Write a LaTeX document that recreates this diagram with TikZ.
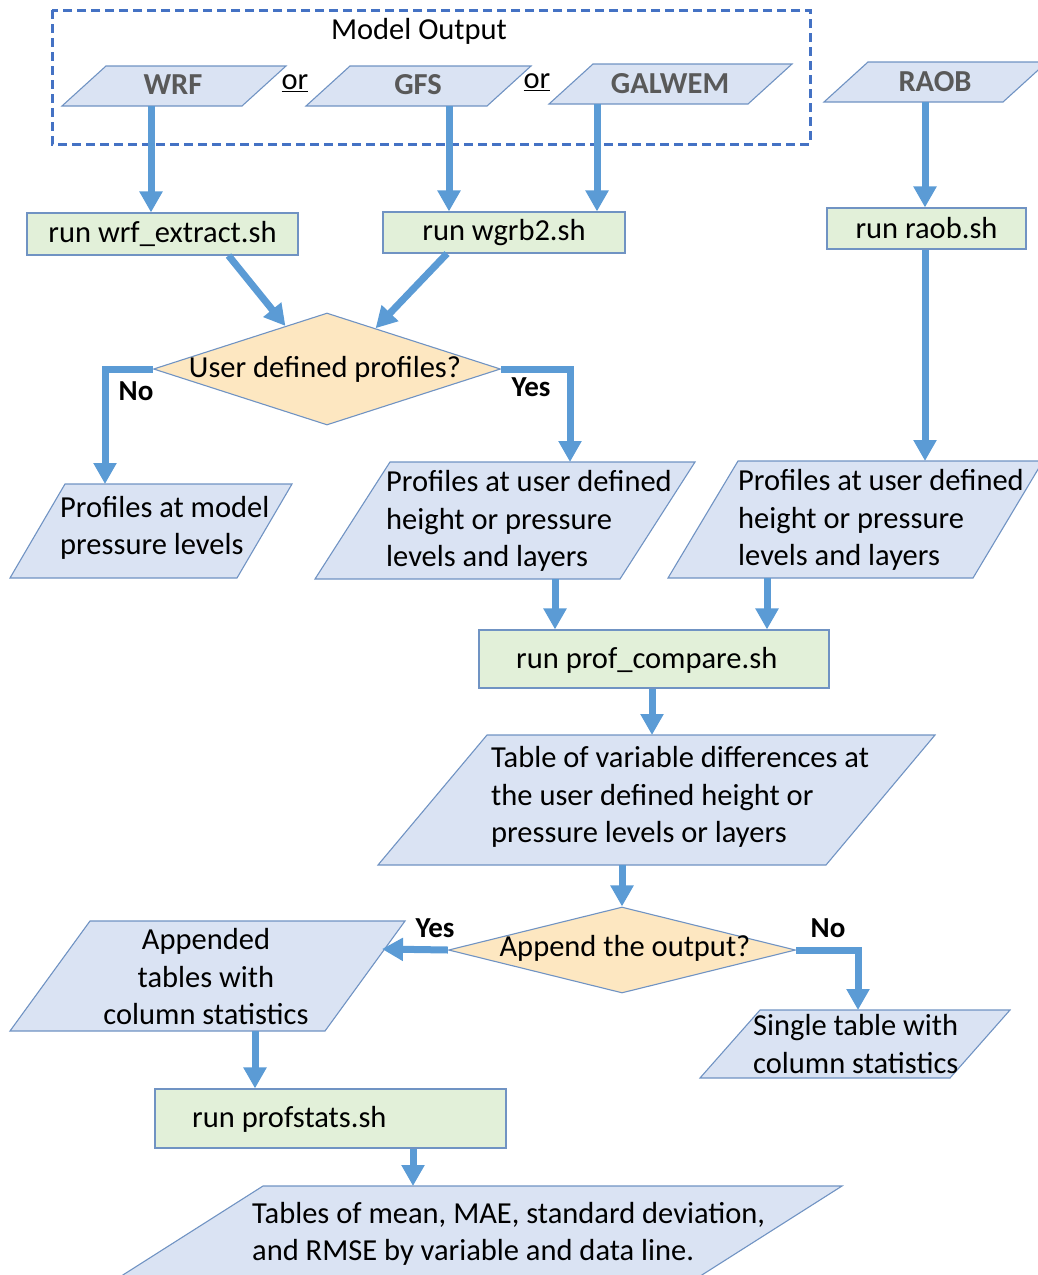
\documentclass[tikz,border=0pt]{standalone}
\usepackage{fontspec}
\setmainfont{Carlito}
\usetikzlibrary{arrows.meta,shapes.geometric}

\definecolor{flowblue}{HTML}{5B9BD5}
\definecolor{dashblue}{HTML}{4472C4}
\definecolor{iofill}{HTML}{DAE3F3}
\definecolor{runfill}{HTML}{E2F0D9}
\definecolor{askfill}{HTML}{FDE7C1}
\definecolor{edgeblue}{HTML}{7093C3}
\definecolor{srcgray}{HTML}{595959}

\newcommand\mainsize{\fontsize{30.5}{37.5}\selectfont}
\newcommand\branchsize{\fontsize{29}{34}\selectfont}

% parallelogram: name, bottom-left x, bottom-right x, bottom y, top y, slant offset
\newcommand\ioshape[6]{%
  \draw[iobox] (#2,#4) -- (#3,#4) -- ({#3+#6},#5) -- ({#2+#6},#5) -- cycle;
  \coordinate (#1) at ({(#2+#3+#6)/2},{(#4+#5)/2});}

\tikzset{
  iobox/.style={draw=edgeblue, fill=iofill, line width=1.1pt},
  runbox/.style={draw=edgeblue, fill=runfill, line width=1.1pt, rectangle, inner sep=0pt, font=\mainsize},
  ask/.style={draw=edgeblue, fill=askfill, line width=1.1pt, diamond, inner sep=0pt},
  flow/.style={draw=flowblue, line width=7pt, -{Triangle[width=22pt,length=21pt]}},
  txt/.style={inner sep=0pt, font=\mainsize, align=left},
  srcname/.style={inner sep=0pt, font=\mainsize\bfseries, text=srcgray},
  branch/.style={inner sep=0pt, font=\branchsize\bfseries},
}

\begin{document}
\begin{tikzpicture}[x=1pt,y=-1pt]
\useasboundingbox (0,0) rectangle (1038,1275);
\clip (0,0) rectangle (1038,1275);

% model output group
\draw[dashblue, line width=3pt, dash pattern=on 9pt off 5pt] (52,10) rectangle (810,144);
\node[txt] (mo) at (419,31) {Model Output};

% data sources
\ioshape{wrf}{62}{242}{106}{66}{44}
\node[srcname] (wrft) at (173,85) {WRF};
\ioshape{gfs}{306}{487}{106}{66}{44}
\node[srcname] (gfst) at (418,85) {GFS};
\ioshape{galwem}{549}{748}{104}{64}{44}
\node[srcname] (galwemt) at (670,84) {GALWEM};
\ioshape{raob}{824}{1003}{102}{62}{44}
\node[srcname] (raobt) at (935,82) {RAOB};
\node[txt] (or1) at (295,83) {\underline{or}};
\node[txt] (or2) at (537,82) {\underline{or}};

% extraction scripts
\node[runbox, minimum width=271pt, minimum height=42pt] (ext) at (162.5,234) {run wrf\_extract.sh};
\node[runbox, minimum width=242pt, minimum height=41pt] (wgrb) at (504,232.5) {run wgrb2.sh};
\node[runbox, minimum width=199pt, minimum height=41pt] (raobsh) at (926.5,228.5) {run raob.sh};

% first decision
\node[ask, minimum width=347pt, minimum height=112pt] (d1) at (327,369) {};
\node[txt] (d1t) at (325,369) {User defined profiles?};

% profile outputs
\ioshape{pmod}{10}{237}{578}{484}{55}
\node[txt, anchor=west] (pmodt) at (60,528) {Profiles at model\\pressure levels};
\ioshape{pusr}{315}{620}{579}{462}{75}
\node[txt, anchor=west] (pusrt) at (386,521) {Profiles at user defined\\height or pressure\\levels and layers};
\ioshape{pobs}{668}{973}{578}{461}{70}
\node[txt, anchor=west] (pobst) at (738,520) {Profiles at user defined\\height or pressure\\levels and layers};

% comparison
\node[runbox, minimum width=350pt, minimum height=58pt] (pcomp) at (654,659) {};
\node[txt, anchor=west] (pcompt) at (516,660) {run prof\_compare.sh};
\ioshape{diff}{378}{826}{865}{735}{109}
\node[txt, anchor=west] (difft) at (491,797) {Table of variable differences at\\the user defined height or\\pressure levels or layers};

% second decision
\node[ask, minimum width=347pt, minimum height=86pt] (d2) at (622,950) {};
\node[txt] (d2t) at (625,948) {Append the output?};

\ioshape{app}{10}{325}{1031}{921}{80}
\node[txt, align=center] (appt) at (206,977) {Appended\\tables with\\column statistics};
\ioshape{single}{700}{950}{1078}{1010}{60}
\node[txt, anchor=west] (singlet) at (753,1044) {Single table with\\column statistics};

% statistics
\node[runbox, minimum width=351pt, minimum height=59pt] (pstats) at (330.5,1118.5) {};
\node[txt, anchor=west] (pstatst) at (192,1119) {run profstats.sh};
\ioshape{stats}{115}{694}{1280}{1186}{148}
\node[txt, anchor=west] (statst) at (252,1234) {Tables of mean, MAE, standard deviation,\\and RMSE by variable and data line.};

% connector end points on the slanted shapes
\coordinate (wrf-o) at (151,106);
\coordinate (gfs-o) at (449,106);
\coordinate (galwem-o) at (597,104);
\coordinate (raob-o) at (925,102);
\coordinate (pmod-i) at (105,484);
\coordinate (pusr-i) at (570,462);
\coordinate (pusr-o) at (555,579);
\coordinate (pobs-i) at (925,461);
\coordinate (pobs-o) at (767,578);
\coordinate (diff-i) at (652,735);
\coordinate (diff-o) at (622,865);
\coordinate (app-i) at (382,949);
\coordinate (app-o) at (255,1031);
\coordinate (single-i) at (858,1010);
\coordinate (stats-i) at (413,1186);

% connectors
\draw[flow] (wrf-o) -- (wrf-o |- ext.north);
\draw[flow] (gfs-o) -- (gfs-o |- wgrb.north);
\draw[flow] (galwem-o) -- (galwem-o |- wgrb.north);
\draw[flow] (raob-o) -- (raob-o |- raobsh.north);
\draw[flow] ([xshift=66pt]ext.south) -- (d1.134);
\draw[flow] ([xshift=-57pt]wgrb.south) -- (d1.40);
\draw[flow] (d1.west) -| (pmod-i);
\draw[flow] (d1.east) -| (pusr-i);
\draw[flow] (raobsh.south -| pobs-i) -- (pobs-i);
\draw[flow] (pusr-o) -- (pusr-o |- pcomp.north);
\draw[flow] (pobs-o) -- (pobs-o |- pcomp.north);
\draw[flow] (pcomp.south -| diff-i) -- (diff-i);
\draw[flow] (diff-o) -- (d2.north);
\draw[flow] (d2.west) -- (app-i);
\draw[flow] (d2.east) -| (single-i);
\draw[flow] (app-o) -- (app-o |- pstats.north);
\draw[flow] (pstats.south -| stats-i) -- (stats-i);

% branch labels
\node[branch] (no1) at (136,391) {No};
\node[branch] (yes1) at (531,387) {Yes};
\node[branch] (yes2) at (435,928) {Yes};
\node[branch] (no2) at (828,928) {No};
\end{tikzpicture}
\end{document}
